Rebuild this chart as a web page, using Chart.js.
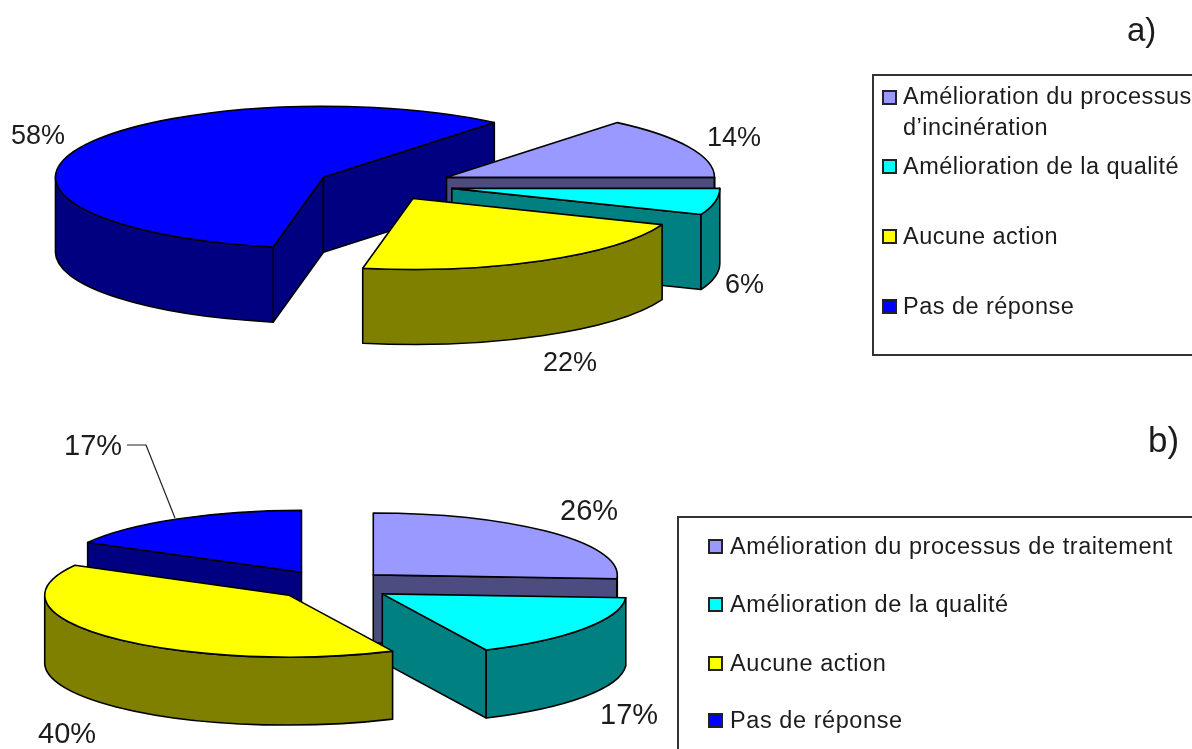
<!DOCTYPE html>
<html lang="fr">
<head>
<meta charset="utf-8">
<title>Actions</title>
<script src="https://cdn.jsdelivr.net/npm/chart.js@4"></script>
<style>
html,body{margin:0;padding:0;background:#fff;overflow:hidden}
#stage{position:relative;width:1192px;height:749px;overflow:hidden;font-family:"Liberation Sans",Arial,sans-serif;color:#1c1c1c;filter:blur(.4px)}
canvas{position:absolute;left:0;top:0}
.t{position:absolute;white-space:nowrap;line-height:30px;height:30px}
.pa{font-size:27px}
.pb{font-size:29px}
.mark{font-size:33px}
.markb{font-size:35px}
.leg{font-size:23.5px;letter-spacing:.47px}
.legb{font-size:23.5px;letter-spacing:.57px}
.sw{position:absolute;width:11px;height:11px;border:2px solid #222}
.box{position:absolute;border:2px solid #333;background:#fff;box-sizing:border-box}
</style>
</head>
<body>
<div id="stage">
<div class="box" style="left:872px;top:74px;width:340px;height:282px"></div>
<div class="box" style="left:677px;top:516px;width:540px;height:260px"></div>
<canvas id="ca" width="1192" height="749"></canvas>
<canvas id="cb" width="1192" height="749"></canvas>
</div>
<script>
const categoriesA = ["Amélioration du processus d’incinération", "Amélioration de la qualité", "Aucune action", "Pas de réponse"];
const categoriesB = ["Amélioration du processus de traitement", "Amélioration de la qualité", "Aucune action", "Pas de réponse"];
const valuesA = [14, 6, 22, 58];
const valuesB = [26, 17, 40, 17];
const topColors = ["#9999ff", "#00ffff", "#ffff00", "#0000ff"];
const wallColors = ["#4c4c80", "#008080", "#808000", "#000080"];
const wallPaintOrder = [3, 0, 1, 2];
const panelA = "a)";
const panelB = "b)";

const pie3d = {
  id: "pie3d",
  afterDatasetsUpdate(chart, args, o) {
    // Chart.js grows an offset arc by offset/4 * fix; keep every slice at the same radius.
    for (const a of chart.getDatasetMeta(0).data) {
      const off = (a.options.offset || 0) / 4;
      const c = a.endAngle - a.startAngle;
      const fix = 1 - Math.sin(Math.min(Math.PI, c));
      a.outerRadius = o.radius - off * fix;
    }
  },
  beforeDatasetsDraw(chart, args, o) {
    const ctx = chart.ctx;
    const data = chart.getDatasetMeta(0).data;
    ctx.save();
    ctx.strokeStyle = "#000";
    ctx.lineWidth = 1.6;
    ctx.lineJoin = "round";
    for (const i of wallPaintOrder) {
      const g = geom(data[i], o);
      ctx.fillStyle = wallColors[i];
      const face = (t) => {
        const ex = g.cx + g.R * Math.cos(t), ey = g.cy + o.k * g.R * Math.sin(t);
        ctx.beginPath();
        ctx.moveTo(g.cx, g.cy); ctx.lineTo(ex, ey);
        ctx.lineTo(ex, ey + o.depth); ctx.lineTo(g.cx, g.cy + o.depth);
        ctx.closePath(); ctx.fill(); ctx.stroke();
      };
      if (-Math.cos(g.s) > 0) face(g.s);
      if (Math.cos(g.e) > 0) face(g.e);
      for (let n = -1; n <= 2; n++) {
        const t1 = Math.max(g.s, 2 * Math.PI * n), t2 = Math.min(g.e, 2 * Math.PI * n + Math.PI);
        if (t2 <= t1) continue;
        ctx.beginPath();
        ctx.ellipse(g.cx, g.cy, g.R, o.k * g.R, 0, t1, t2);
        ctx.ellipse(g.cx, g.cy + o.depth, g.R, o.k * g.R, 0, t2, t1, true);
        ctx.closePath(); ctx.fill(); ctx.stroke();
      }
    }
    ctx.restore();
    const a0 = data[0];
    ctx.save();
    ctx.translate(a0.x, a0.y); ctx.scale(1, o.k); ctx.translate(-a0.x, -a0.y);
  },
  afterDatasetsDraw(chart, args, o) {
    const ctx = chart.ctx;
    ctx.restore();
    ctx.save();
    ctx.strokeStyle = "#000";
    ctx.lineWidth = 1.6;
    ctx.lineJoin = "round";
    chart.getDatasetMeta(0).data.forEach((a, i) => {
      const g = geom(a, o);
      ctx.beginPath();
      ctx.moveTo(g.cx, g.cy);
      ctx.ellipse(g.cx, g.cy, g.R, o.k * g.R, 0, g.s, g.e);
      ctx.closePath();
      ctx.fillStyle = topColors[i];
      ctx.fill();
      ctx.stroke();
    });
    if (o.leader) {
      ctx.strokeStyle = "#222";
      ctx.lineWidth = 1.2;
      ctx.beginPath();
      o.leader.forEach((p, i) => i ? ctx.lineTo(p[0], p[1]) : ctx.moveTo(p[0], p[1]));
      ctx.stroke();
    }
    ctx.restore();
  }
};
function geom(a, o) {
  const off = (a.options.offset || 0) / 4;
  const s = a.startAngle, e = a.endAngle, mid = (s + e) / 2;
  return { s, e, mid, R: o.radius, cx: a.x + off * Math.cos(mid), cy: a.y + o.k * off * Math.sin(mid) };
}
function makePie(id, labels, values, p) {
  return new Chart(document.getElementById(id), {
    type: "pie",
    data: { labels, datasets: [{ data: values, backgroundColor: topColors, borderWidth: 0, offset: p.explode.map(d => d * 4), clip: false }] },
    options: {
      responsive: false, animation: false, events: [],
      rotation: p.rotation,
      radius: p.radius,
      layout: { padding: { left: 0, top: Math.max(0, 2 * p.cy - 749), right: 1192 - 2 * p.cx, bottom: Math.max(0, 749 - 2 * p.cy) } },
      plugins: { legend: { display: false }, tooltip: { enabled: false }, pie3d: { k: p.k, depth: p.depth, leader: p.leader, radius: p.radius } }
    },
    plugins: [pie3d]
  });
}
makePie("ca", categoriesA, valuesA, { rotation: 39.6, cx: 385, cy: 185, radius: 268, explode: [68, 68, 58, 68], k: 0.265, depth: 75 });
makePie("cb", categoriesB, valuesB, { rotation: 0, cx: 331, cy: 585, radius: 244, explode: [58, 62, 58, 58], k: 0.254, depth: 68, leader: [[127, 445], [146, 445], [175, 518]] });

const stage = document.getElementById("stage");
function text(str, x, yc, cls) {
  const d = document.createElement("div");
  d.className = "t " + cls; d.textContent = str;
  d.style.left = x + "px"; d.style.top = (yc - 15) + "px";
  stage.appendChild(d);
}
function swatch(color, x, yc) {
  const d = document.createElement("div");
  d.className = "sw"; d.style.background = color;
  d.style.left = x + "px"; d.style.top = (yc - 7.5) + "px";
  stage.appendChild(d);
}
text(panelA, 1127, 30, "mark");
text(panelB, 1148, 440, "markb");
const pctA = [[707, 137], [725, 284], [543, 362], [11, 135]];
const pctB = [[560, 510], [600, 714], [38, 733], [64, 445]];
valuesA.forEach((v, i) => text(v + "%", pctA[i][0], pctA[i][1], "pa"));
valuesB.forEach((v, i) => text(v + "%", pctB[i][0], pctB[i][1], "pb"));
const legA = [97, 166, 236, 306];
const legB = [546, 604, 663, 720];
categoriesA.forEach((c, i) => {
  swatch(topColors[i], 882, legA[i]);
  if (i === 0) {
    const cut = c.indexOf(" d’");
    text(c.slice(0, cut), 903, 96, "leg");
    text(c.slice(cut + 1), 903, 127, "leg");
  } else text(c, 903, legA[i], "leg");
});
categoriesB.forEach((c, i) => {
  swatch(topColors[i], 708, legB[i]);
  text(c, 730, legB[i], "legb");
});
</script>
</body>
</html>
